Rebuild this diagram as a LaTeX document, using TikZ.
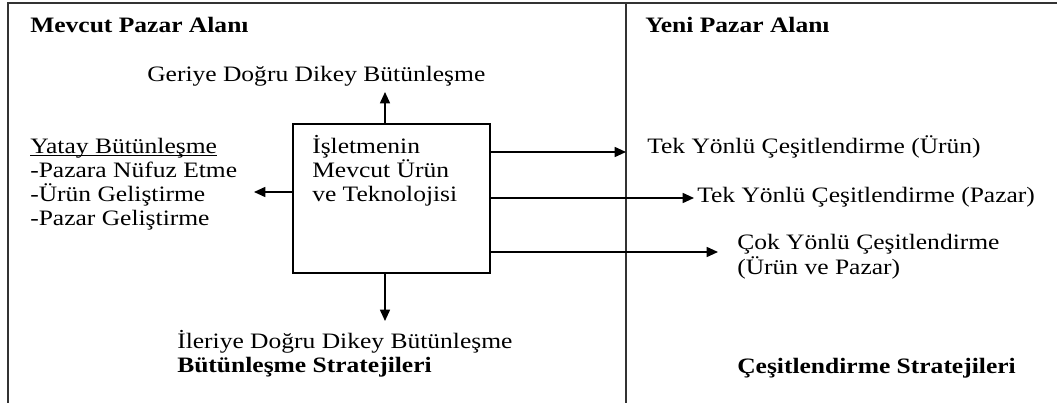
\documentclass[tikz,border=0pt]{standalone}
\usepackage{fontspec}
\setmainfont{Liberation Serif}[FakeStretch=1.16]
\usetikzlibrary{arrows.meta}
\begin{document}
\begin{tikzpicture}[x=0.75pt,y=-0.75pt,
  lbl/.style={anchor=base west, inner sep=0pt, font=\fontsize{16.5}{18.4}\selectfont},
  hdr/.style={anchor=base west, inner sep=0pt, font=\fontsize{16.5}{18.4}\selectfont\bfseries},
  conn/.style={line width=1.2pt, -{Triangle[length=8.5pt,width=7.5pt]}},
  rule/.style={line width=1.4pt, draw=black!80},
  corebox/.style={draw, line width=1.2pt, inner sep=0pt,
    minimum width=147.75pt, minimum height=111.75pt}]
\useasboundingbox (0,0) rectangle (1057,403);

% frame and divider between the two market areas
\draw[rule] (8,403) -- (8,3) -- (1057,3);
\draw[rule] (626,3) -- (626,403);

% headings
\node[hdr] (mevcut) at (30,33) {Mevcut Pazar Alanı};
\node[hdr] (yeni) at (645,33) {Yeni Pazar Alanı};

% central box
\node[corebox] (core) at (391.5,198.5) {};
\node[lbl] (c1) at (312,153) {İşletmenin};
\node[lbl] (c2) at (312,177) {Mevcut Ürün};
\node[lbl] (c3) at (312,201) {ve Teknolojisi};

% integration strategies
\node[lbl] (geri) at (147,82) {Geriye Doğru Dikey Bütünleşme};
\node[lbl] (y0) at (30,153) {Yatay Bütünleşme};
\draw[line width=0.8pt] ([yshift=-1.6pt]y0.base west) -- ([yshift=-1.6pt]y0.base east);
\node[lbl] (y1) at (30,177) {-Pazara Nüfuz Etme};
\node[lbl] (y2) at (30,201) {-Ürün Geliştirme};
\node[lbl] (y3) at (30,225) {-Pazar Geliştirme};
\node[lbl] (ileri) at (177,348) {İleriye Doğru Dikey Bütünleşme};
\node[hdr] (bst) at (177,372) {Bütünleşme Stratejileri};

% diversification strategies
\node[lbl] (tk1) at (647,153) {Tek Yönlü Çeşitlendirme (Ürün)};
\node[lbl] (tk2) at (697,202) {Tek Yönlü Çeşitlendirme (Pazar)};
\node[lbl] (cok1) at (737,249) {Çok Yönlü Çeşitlendirme};
\node[lbl] (cok2) at (737,274) {(Ürün ve Pazar)};
\node[hdr] (cst) at (737,373) {Çeşitlendirme Stratejileri};

% connectors
\coordinate (upend) at (385,92);
\coordinate (dnend) at (385,321);
\coordinate (lfend) at (254,192);
\coordinate (r1end) at (626,152);
\coordinate (r2end) at (694,198);
\coordinate (r3end) at (718,252);
\draw[conn] (core.north -| upend) -- (upend);
\draw[conn] (core.south -| dnend) -- (dnend);
\draw[conn] (core.west |- lfend) -- (lfend);
\draw[conn] (core.east |- r1end) -- (r1end);
\draw[conn] (core.east |- r2end) -- (r2end);
\draw[conn] (core.east |- r3end) -- (r3end);
\end{tikzpicture}
\end{document}
